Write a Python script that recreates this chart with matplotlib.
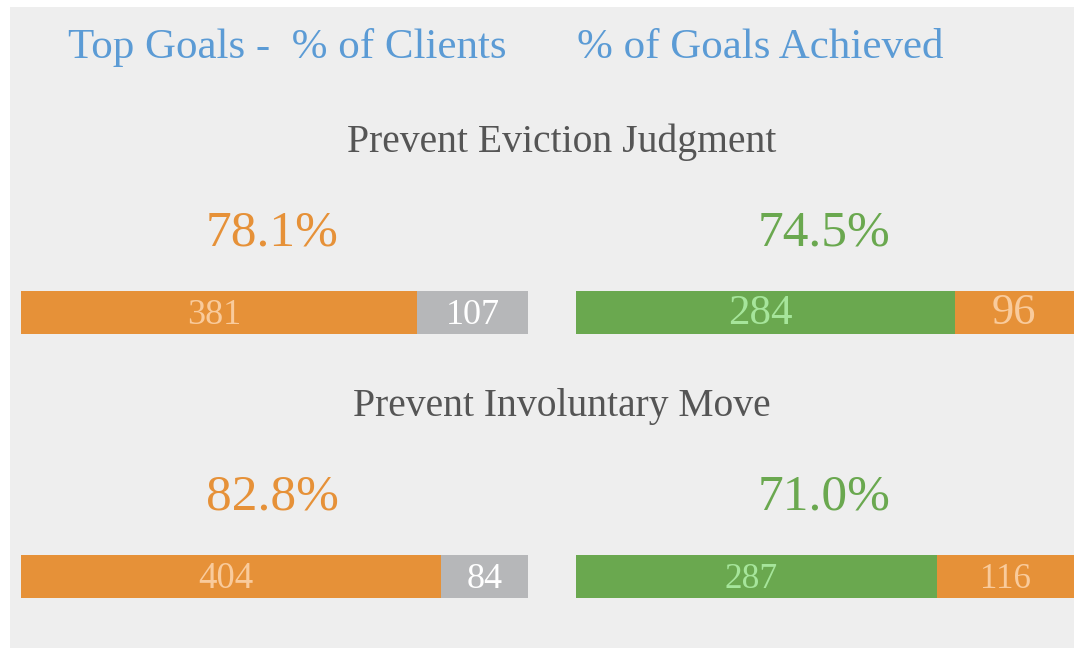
import matplotlib
matplotlib.use('Agg')
import matplotlib.pyplot as plt
from matplotlib.patches import Rectangle
import matplotlib.transforms as mtransforms

# ---------------- data ----------------
headers = ["Top Goals -  % of Clients", "% of Goals Achieved"]
goals = ["Prevent Eviction Judgment", "Prevent Involuntary Move"]
pct_clients = [78.1, 82.8]
pct_achieved = [74.5, 71.0]
clients_yes = [381, 404]
clients_no = [107, 84]
achieved_yes = [284, 287]
achieved_no = [96, 116]

# ---------------- style ----------------
W, H, DPI = 1074, 648, 100
FONT = ['Liberation Serif', 'DejaVu Serif']
BG = '#eeeeee'
ORANGE = '#e69138'
GREEN = '#6aa84f'
GRAY = '#b6b7b9'
BLUE = '#5b9bd5'
DARK = '#555555'
TXT_ON = {ORANGE: '#f9cb9c', GREEN: '#a6e59b', GRAY: '#ffffff'}

plt.rcParams['font.family'] = FONT

fig = plt.figure(figsize=(W / DPI, H / DPI), dpi=DPI, facecolor='white')

# background / text layer in pixel coordinates
bg = fig.add_axes([0, 0, 1, 1])
bg.set_xlim(0, W)
bg.set_ylim(H, 0)
bg.axis('off')
bg.add_patch(Rectangle((10, 7), W - 10, H - 7, facecolor=BG, edgecolor='none'))

bg.text(68, 58, headers[0], ha='left', va='baseline', fontsize=31, color=BLUE)
bg.text(577, 58, headers[1], ha='left', va='baseline', fontsize=31, color=BLUE)

ROW_DY = 264
LEFT_X = (21, 528)
RIGHT_X = (576, 1083)
label_sizes = [[26, 26, 31, 32], [26.5, 26, 25.5, 25]]


def px_axes(x0, y0, x1, y1):
    return fig.add_axes([x0 / W, 1 - y1 / H, (x1 - x0) / W, (y1 - y0) / H])


def stacked_bar(ax, values, colors, sizes):
    total = sum(values)
    left = 0
    tr = mtransforms.offset_copy(ax.transData, fig=fig, x=-5, y=0, units='dots')
    for v, c, s in zip(values, colors, sizes):
        ax.barh(0.5, v, left=left, height=1.0, color=c, edgecolor='none')
        off = tr if c != GRAY else ax.transData
        ax.text(left + v / 2, 0.23, str(v), ha='center', va='baseline',
                fontsize=s, color=TXT_ON[c], transform=off)
        left += v
    ax.set_xlim(0, total)
    ax.set_ylim(0, 1)
    ax.axis('off')


for i in range(2):
    dy = ROW_DY * i
    bg.text(562, 152 + dy, goals[i], ha='center', va='baseline', fontsize=28.5, color=DARK)
    bg.text(272, 245 + dy, f"{pct_clients[i]:.1f}%", ha='center', va='baseline',
            fontsize=37, color=ORANGE)
    bg.text(824, 245 + dy, f"{pct_achieved[i]:.1f}%", ha='center', va='baseline',
            fontsize=37, color=GREEN)

    axl = px_axes(LEFT_X[0], 291 + dy, LEFT_X[1], 334 + dy)
    stacked_bar(axl, [clients_yes[i], clients_no[i]], [ORANGE, GRAY], label_sizes[i][:2])
    axr = px_axes(RIGHT_X[0], 291 + dy, RIGHT_X[1], 334 + dy)
    stacked_bar(axr, [achieved_yes[i], achieved_no[i]], [GREEN, ORANGE], label_sizes[i][2:])

fig.savefig('out.png', dpi=DPI, facecolor='white')
